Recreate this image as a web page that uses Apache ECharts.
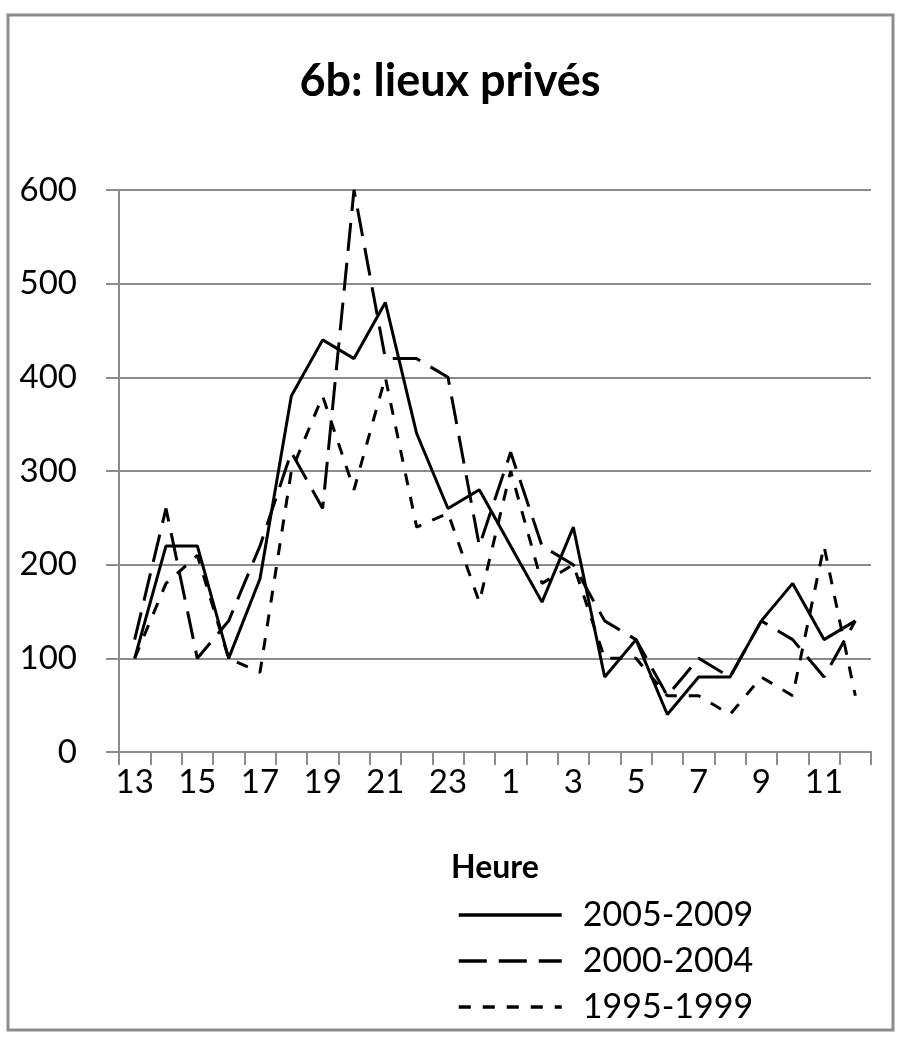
<!DOCTYPE html>
<html>
<head>
<meta charset="utf-8">
<script src="https://cdn.jsdelivr.net/npm/echarts@6/dist/echarts.min.js"></script>
<style>
  html, body { margin: 0; padding: 0; background: #fff; }
  #main { width: 900px; height: 1037px; }
</style>
</head>
<body>
<div id="main"></div>
<script>
// hours, starting at 13h and wrapping round midnight
const hours = ["13", "14", "15", "16", "17", "18", "19", "20", "21", "22", "23",
  "0", "1", "2", "3", "4", "5", "6", "7", "8", "9", "10", "11", "12"];

const s2005_2009 = [100, 220, 220, 100, 185, 380, 440, 420, 480, 340, 260, 280,
  220, 160, 240, 80, 120, 40, 80, 80, 140, 180, 120, 140];
const s2000_2004 = [120, 260, 100, 140, 220, 320, 260, 600, 420, 420, 400, 220,
  320, 220, 200, 140, 120, 60, 100, 80, 140, 120, 80, 140];
const s1995_1999 = [100, 180, 210, 100, 85, 300, 380, 280, 400, 240, 255, 160,
  300, 180, 200, 100, 100, 60, 60, 40, 80, 60, 220, 60];

const font = "Lato";
const grey = "#8c8c8c";

const chart = echarts.init(document.getElementById("main"));

chart.setOption({
  animation: false,
  title: {
    text: "6b: lieux privés",
    left: "center",
    top: 54,
    textStyle: { fontFamily: font, fontSize: 45, fontWeight: "bold", color: "#000" }
  },
  grid: { left: 119, right: 29, top: 190, bottom: 285 },
  legend: {
    orient: "vertical",
    left: 452,
    top: 893,
    itemWidth: 103,
    itemHeight: 14,
    itemGap: 12,
    // hide the marker in the middle of the legend line
    itemStyle: { color: "rgba(0,0,0,0)", borderColor: "rgba(0,0,0,0)", borderWidth: 0 },
    lineStyle: { width: 3.5 },
    textStyle: { fontFamily: font, fontSize: 34, color: "#000", padding: [0, 0, 0, 16] },
    data: ["2005-2009", "2000-2004", "1995-1999"]
  },
  xAxis: {
    type: "category",
    data: hours,
    boundaryGap: true,
    name: "Heure",
    nameLocation: "middle",
    nameGap: 100,
    nameTextStyle: { fontFamily: font, fontSize: 32, fontWeight: "bold", color: "#000" },
    axisLine: { lineStyle: { color: grey, width: 2 } },
    axisTick: { show: true, interval: 0, length: 13, lineStyle: { color: grey, width: 2 } },
    axisLabel: { interval: 1, margin: 14, fontFamily: font, fontSize: 33, color: "#000" },
    splitLine: { show: false }
  },
  yAxis: {
    type: "value",
    min: 0,
    max: 600,
    interval: 100,
    axisLine: { show: true, lineStyle: { color: grey, width: 2 } },
    axisTick: { show: true, length: 13, lineStyle: { color: grey, width: 2 } },
    axisLabel: { margin: 42, fontFamily: font, fontSize: 33, color: "#000" },
    splitLine: { lineStyle: { color: grey, width: 2 } }
  },
  series: [
    {
      name: "2005-2009",
      type: "line",
      data: s2005_2009,
      symbol: "none",
      lineStyle: { color: "#000", width: 3, type: "solid" },
      itemStyle: { color: "#000" }
    },
    {
      name: "2000-2004",
      type: "line",
      data: s2000_2004,
      symbol: "none",
      lineStyle: { color: "#000", width: 3, type: [28, 12] },
      itemStyle: { color: "#000" }
    },
    {
      name: "1995-1999",
      type: "line",
      data: s1995_1999,
      symbol: "none",
      lineStyle: { color: "#000", width: 3, type: [12, 12] },
      itemStyle: { color: "#000" }
    }
  ],
  graphic: [
    {
      type: "rect",
      shape: { x: 8, y: 15, width: 885, height: 1015 },
      style: { fill: "none", stroke: grey, lineWidth: 3 },
      silent: true
    }
  ]
});
</script>
</body>
</html>
